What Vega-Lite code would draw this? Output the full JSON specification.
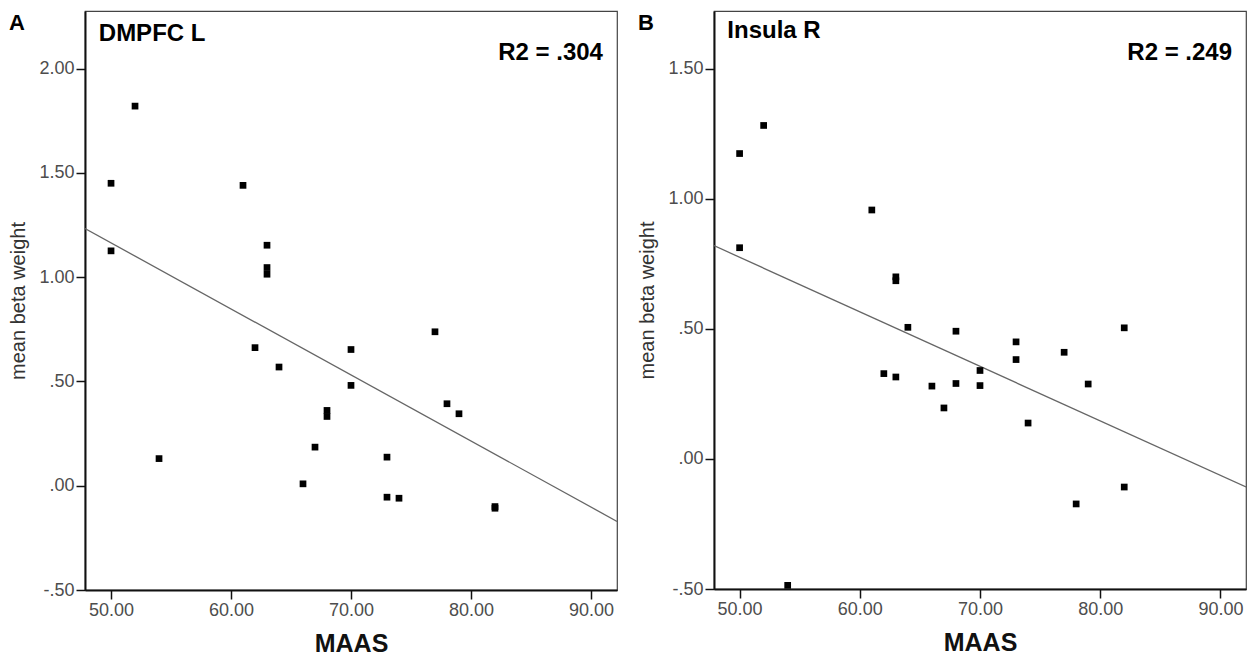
{
  "$schema": "https://vega.github.io/schema/vega-lite/v6.json",
  "padding": {"left": 8, "top": 10, "right": 0, "bottom": 0},
  "spacing": 19,
  "background": "white",
  "config": {
    "font": "Liberation Sans",
    "view": {"stroke": "#444", "strokeWidth": 1.2},
    "axis": {
      "grid": false,
      "labelFont": "Liberation Sans",
      "labelFontSize": 18,
      "labelColor": "#4d4d4d",
      "labelPadding": 2,
      "labelFlush": false,
      "tickColor": "#111",
      "tickSize": 9,
      "tickWidth": 1.5,
      "domainColor": "#111",
      "domainWidth": 2,
      "titleFont": "Liberation Sans"
    },
    "axisX": {"titleFontSize": 25, "titleFontWeight": "bold", "titleColor": "#111", "titlePadding": 12},
    "axisY": {"titleFontSize": 20, "titleFontWeight": "normal", "titleColor": "#333", "titlePadding": 10},
    "title": {"fontSize": 22, "fontWeight": "bold", "color": "#000", "anchor": "start", "frame": "bounds"}
  },
  "datasets": {
    "pointsA": [
      {"maas": 50, "beta": 1.45}, {"maas": 50, "beta": 1.126}, {"maas": 52, "beta": 1.82},
      {"maas": 54, "beta": 0.13}, {"maas": 61, "beta": 1.44}, {"maas": 62, "beta": 0.662},
      {"maas": 63, "beta": 1.153}, {"maas": 63, "beta": 1.046}, {"maas": 63, "beta": 1.014},
      {"maas": 64, "beta": 0.569}, {"maas": 66, "beta": 0.009}, {"maas": 67, "beta": 0.185},
      {"maas": 68, "beta": 0.361}, {"maas": 68, "beta": 0.332}, {"maas": 70, "beta": 0.653},
      {"maas": 70, "beta": 0.481}, {"maas": 73, "beta": 0.137}, {"maas": 73, "beta": -0.055},
      {"maas": 74, "beta": -0.06}, {"maas": 77, "beta": 0.738}, {"maas": 78, "beta": 0.393},
      {"maas": 79, "beta": 0.345}, {"maas": 82, "beta": -0.108}, {"maas": 82, "beta": -0.1}
    ],
    "pointsB": [
      {"maas": 50, "beta": 1.174}, {"maas": 50, "beta": 0.812}, {"maas": 52, "beta": 1.282},
      {"maas": 54, "beta": -0.486}, {"maas": 61, "beta": 0.957}, {"maas": 62, "beta": 0.328},
      {"maas": 63, "beta": 0.7}, {"maas": 63, "beta": 0.685}, {"maas": 63, "beta": 0.315},
      {"maas": 64, "beta": 0.506}, {"maas": 66, "beta": 0.28}, {"maas": 67, "beta": 0.196},
      {"maas": 68, "beta": 0.491}, {"maas": 68, "beta": 0.29}, {"maas": 70, "beta": 0.34},
      {"maas": 70, "beta": 0.282}, {"maas": 73, "beta": 0.45}, {"maas": 73, "beta": 0.382},
      {"maas": 74, "beta": 0.138}, {"maas": 77, "beta": 0.41}, {"maas": 78, "beta": -0.173},
      {"maas": 79, "beta": 0.288}, {"maas": 82, "beta": 0.504}, {"maas": 82, "beta": -0.108}
    ],
    "lineA": [{"maas": 47.83, "beta": 1.233}, {"maas": 92.17, "beta": -0.171}],
    "lineB": [{"maas": 47.87, "beta": 0.82}, {"maas": 92.13, "beta": -0.108}],
    "notesA": [
      {"maas": 48.98, "beta": 2.165, "label": "DMPFC L", "side": "left"},
      {"maas": 91.0, "beta": 2.077, "label": "R2 = .304", "side": "right"}
    ],
    "notesB": [
      {"maas": 48.98, "beta": 1.645, "label": "Insula R", "side": "left"},
      {"maas": 90.97, "beta": 1.562, "label": "R2 = .249", "side": "right"}
    ]
  },
  "hconcat": [
    {
      "width": 532,
      "height": 579,
      "title": {"text": "A", "offset": -24, "fontSize": 22},
      "layer": [
        {
          "data": {"name": "lineA"},
          "mark": {"type": "line", "color": "#666", "strokeWidth": 1.3, "clip": true},
          "encoding": {
            "x": {"field": "maas", "type": "quantitative", "scale": {"domain": [47.83, 92.17], "nice": false, "zero": false},
              "axis": {"title": "MAAS", "values": [50, 60, 70, 80, 90], "labelExpr": "format(datum.value, '.2f')"}},
            "y": {"field": "beta", "type": "quantitative", "scale": {"domain": [-0.5, 2.276], "nice": false, "zero": false},
              "axis": {"title": "mean beta weight", "values": [-0.5, 0, 0.5, 1, 1.5, 2],
                "labelExpr": "abs(datum.value) < 1 ? (datum.value < 0 ? '-' : '') + substring(format(abs(datum.value), '.2f'), 1) : format(datum.value, '.2f')"}}
          }
        },
        {
          "data": {"name": "pointsA"},
          "mark": {"type": "point", "shape": "square", "filled": true, "color": "#000", "size": 45, "opacity": 1},
          "encoding": {
            "x": {"field": "maas", "type": "quantitative"},
            "y": {"field": "beta", "type": "quantitative"}
          }
        },
        {
          "data": {"name": "notesA"},
          "transform": [{"filter": "datum.side == 'left'"}],
          "mark": {"type": "text", "fontWeight": "bold", "fontSize": 24, "align": "left", "baseline": "middle", "color": "#000"},
          "encoding": {
            "x": {"field": "maas", "type": "quantitative"},
            "y": {"field": "beta", "type": "quantitative"},
            "text": {"field": "label"}
          }
        },
        {
          "data": {"name": "notesA"},
          "transform": [{"filter": "datum.side == 'right'"}],
          "mark": {"type": "text", "fontWeight": "bold", "fontSize": 24, "align": "right", "baseline": "middle", "color": "#000"},
          "encoding": {
            "x": {"field": "maas", "type": "quantitative"},
            "y": {"field": "beta", "type": "quantitative"},
            "text": {"field": "label"}
          }
        }
      ]
    },
    {
      "width": 532,
      "height": 578,
      "title": {"text": "B", "offset": -24, "fontSize": 22},
      "layer": [
        {
          "data": {"name": "lineB"},
          "mark": {"type": "line", "color": "#666", "strokeWidth": 1.3, "clip": true},
          "encoding": {
            "x": {"field": "maas", "type": "quantitative", "scale": {"domain": [47.87, 92.13], "nice": false, "zero": false},
              "axis": {"title": "MAAS", "values": [50, 60, 70, 80, 90], "labelExpr": "format(datum.value, '.2f')"}},
            "y": {"field": "beta", "type": "quantitative", "scale": {"domain": [-0.5, 1.722], "nice": false, "zero": false},
              "axis": {"title": "mean beta weight", "values": [-0.5, 0, 0.5, 1, 1.5],
                "labelExpr": "abs(datum.value) < 1 ? (datum.value < 0 ? '-' : '') + substring(format(abs(datum.value), '.2f'), 1) : format(datum.value, '.2f')"}}
          }
        },
        {
          "data": {"name": "pointsB"},
          "mark": {"type": "point", "shape": "square", "filled": true, "color": "#000", "size": 45, "opacity": 1},
          "encoding": {
            "x": {"field": "maas", "type": "quantitative"},
            "y": {"field": "beta", "type": "quantitative"}
          }
        },
        {
          "data": {"name": "notesB"},
          "transform": [{"filter": "datum.side == 'left'"}],
          "mark": {"type": "text", "fontWeight": "bold", "fontSize": 24, "align": "left", "baseline": "middle", "color": "#000"},
          "encoding": {
            "x": {"field": "maas", "type": "quantitative"},
            "y": {"field": "beta", "type": "quantitative"},
            "text": {"field": "label"}
          }
        },
        {
          "data": {"name": "notesB"},
          "transform": [{"filter": "datum.side == 'right'"}],
          "mark": {"type": "text", "fontWeight": "bold", "fontSize": 24, "align": "right", "baseline": "middle", "color": "#000"},
          "encoding": {
            "x": {"field": "maas", "type": "quantitative"},
            "y": {"field": "beta", "type": "quantitative"},
            "text": {"field": "label"}
          }
        }
      ]
    }
  ]
}
